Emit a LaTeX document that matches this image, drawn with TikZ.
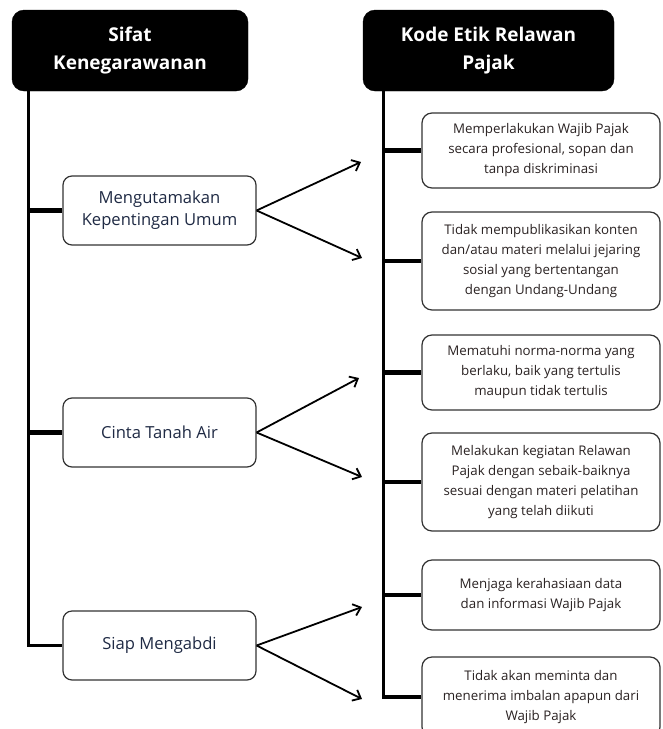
\documentclass[tikz,border=0pt]{standalone}
\usepackage{fontspec}
\setmainfont{Open Sans}
\usetikzlibrary{arrows.meta}
\definecolor{textblue}{HTML}{1F2A44}
\definecolor{textdark}{HTML}{2A2222}
\begin{document}
\begin{tikzpicture}[x=1pt,y=-1pt,
 header/.style={draw=black, fill=black, rounded corners=12pt, text=white, font=\bfseries\fontsize{19}{28}\selectfont, align=center, inner sep=0pt, minimum height=81pt},
 leftbox/.style={draw=black!80, line width=1.2pt, rounded corners=9pt, fill=white, minimum width=193pt, minimum height=69pt, align=center, text=textblue, font=\fontsize{16.6}{22}\selectfont, inner sep=0pt},
 rightbox/.style={draw=black!80, line width=1.2pt, rounded corners=10pt, fill=white, minimum width=238pt, align=center, text=textdark, font=\fontsize{13.3}{20}\selectfont, inner sep=0pt},
 trunk/.style={line width=3pt},
 branch/.style={line width=4.5pt},
 arr/.style={line width=1.8pt, -{Straight Barb[length=7pt,width=12pt]}}]
\useasboundingbox (0,0) rectangle (662,729);

% headers
\node[header, minimum width=236pt] (lhead) at (130,50.5) {Sifat\\Kenegarawanan};
\node[header, minimum width=251pt] (rhead) at (488.5,50.5) {Kode Etik Relawan\\Pajak};

% left boxes
\node[leftbox] (m) at (159.5,210.5) {Mengutamakan\\Kepentingan Umum};
\node[leftbox] (c) at (159.5,432.5) {Cinta Tanah Air};
\node[leftbox] (s) at (159.5,645.5) {Siap Mengabdi};

% right boxes
\node[rightbox, minimum height=75pt] (r1) at (541,150.5) {Memperlakukan Wajib Pajak\\secara profesional, sopan dan\\tanpa diskriminasi};
\node[rightbox, minimum height=98pt] (r2) at (541,261) {Tidak mempublikasikan konten\\dan/atau materi melalui jejaring\\sosial yang bertentangan\\dengan Undang-Undang};
\node[rightbox, minimum height=75pt] (r3) at (541,372.5) {Mematuhi norma-norma yang\\berlaku, baik yang tertulis\\maupun tidak tertulis};
\node[rightbox, minimum height=98pt] (r4) at (541,482) {Melakukan kegiatan Relawan\\Pajak dengan sebaik-baiknya\\sesuai dengan materi pelatihan\\yang telah diikuti};
\node[rightbox, minimum height=70pt] (r5) at (541,595) {Menjaga kerahasiaan data\\dan informasi Wajib Pajak};
\node[rightbox, minimum height=80pt] (r6) at (541,697) {Tidak akan meminta dan\\menerima imbalan apapun dari\\Wajib Pajak};

% trunks
\coordinate (L0) at (28,91);
\coordinate (R0) at (383,91);
\draw[trunk] (L0) -- (L0 |- s.west) -- (s.west);
\draw[branch] (L0 |- m.west) -- (m.west);
\draw[branch] (L0 |- c.west) -- (c.west);

\draw[trunk] (R0) -- (R0 |- r6.west) -- (r6.west);
\foreach \r in {r1,r2,r3,r4,r5,r6}{
  \draw[branch] (R0 |- \r.west) -- (\r.west);
}

% arrows
\coordinate (a1) at (361,162);
\coordinate (a2) at (362,258);
\coordinate (a3) at (359,378);
\coordinate (a4) at (362,477);
\coordinate (a5) at (362,607);
\coordinate (a6) at (362,699);
\draw[arr] (m.east) -- (a1);
\draw[arr] (m.east) -- (a2);
\draw[arr] (c.east) -- (a3);
\draw[arr] (c.east) -- (a4);
\draw[arr] (s.east) -- (a5);
\draw[arr] (s.east) -- (a6);
\end{tikzpicture}
\end{document}
